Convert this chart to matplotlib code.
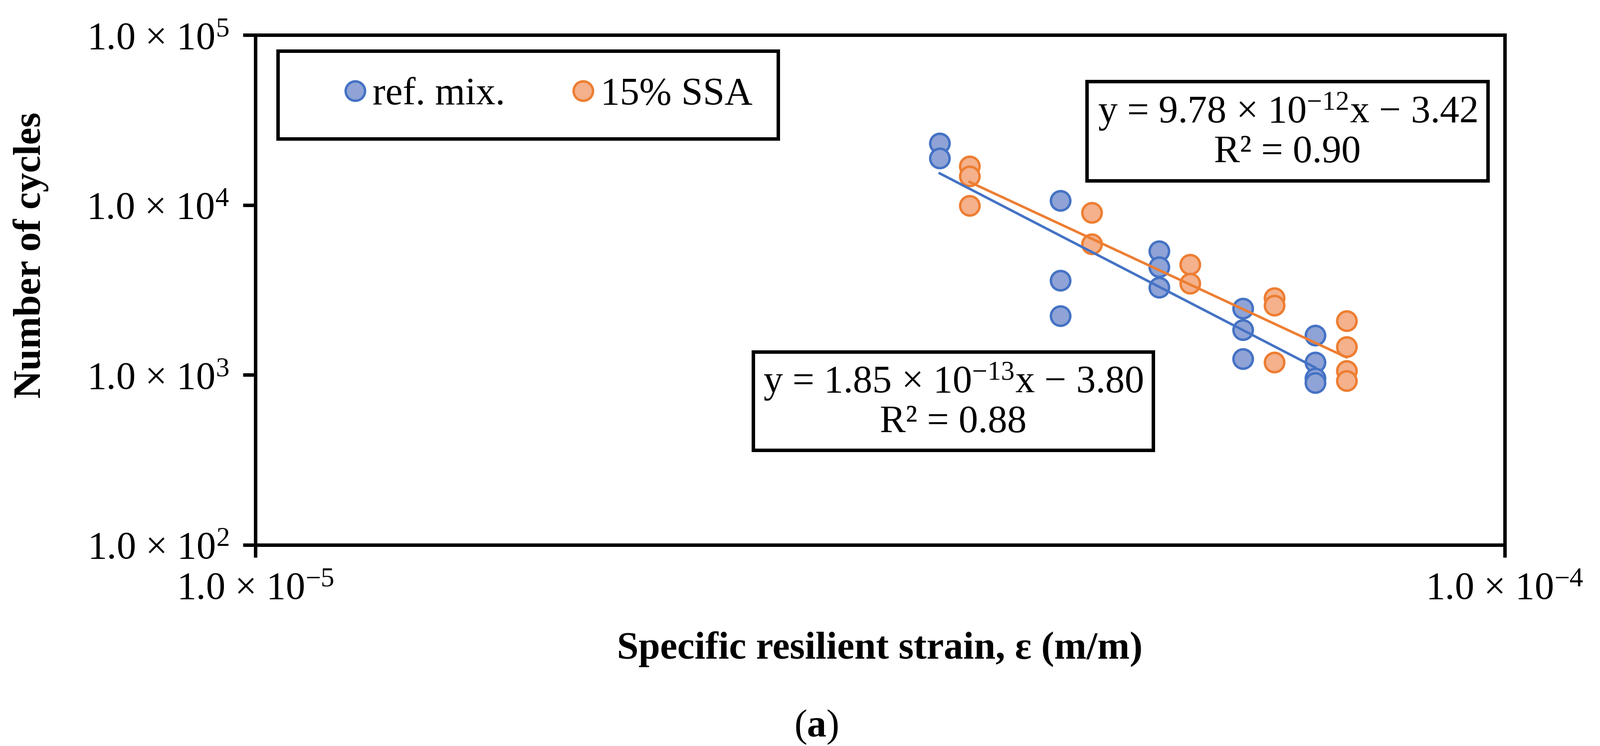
import matplotlib

matplotlib.use("Agg")

import matplotlib.pyplot as plt
from matplotlib.patches import Rectangle
import numpy as np

# strain (m/m) and number of cycles
ref_strain = [3.53e-5, 3.53e-5,
              4.41e-5, 4.41e-5, 4.41e-5,
              5.29e-5, 5.29e-5, 5.29e-5,
              6.17e-5, 6.17e-5, 6.17e-5,
              7.05e-5, 7.05e-5, 7.05e-5, 7.05e-5]
ref_cycles = [23070, 18840,
              10600, 3600, 2230,
              5360, 4320, 3270,
              2460, 1840, 1245,
              1710, 1187, 957, 900]

ssa_strain = [3.73e-5, 3.73e-5, 3.73e-5,
              4.67e-5, 4.67e-5,
              5.60e-5, 5.60e-5,
              6.54e-5, 6.54e-5, 6.54e-5,
              7.47e-5, 7.47e-5, 7.47e-5, 7.47e-5]
ssa_cycles = [16900, 14770, 9910,
              9020, 5890,
              4470, 3450,
              2840, 2565, 1190,
              2080, 1464, 1059, 925]

# power trendlines y = a * x^b as printed on the chart
ref_fit = (1.85e-13, -3.80, 0.88)
ssa_fit = (9.78e-12, -3.42, 0.90)

series_names = ["ref. mix.", "15% SSA"]
x_ticks = [1e-5, 1e-4]
x_tick_labels = ["1.0 × 10$^{-5}$", "1.0 × 10$^{-4}$"]
y_ticks = [1e2, 1e3, 1e4, 1e5]
y_tick_labels = ["1.0 × 10$^{2}$", "1.0 × 10$^{3}$", "1.0 × 10$^{4}$", "1.0 × 10$^{5}$"]

BLUE_EDGE = "#4472C4"
BLUE_FILL = "#8FA3D6"
ORANGE_EDGE = "#ED7D31"
ORANGE_FILL = "#F4B18C"

W, H = 3208, 1495
FS = 56

plt.rcParams["font.family"] = ["Liberation Serif", "DejaVu Serif"]
plt.rcParams["mathtext.fontset"] = "custom"
plt.rcParams["mathtext.rm"] = "Liberation Serif"
plt.rcParams["mathtext.it"] = "Liberation Serif:italic"
plt.rcParams["mathtext.bf"] = "Liberation Serif:bold"


def px(x, y):
    return x / W, 1 - y / H


def fit_line(strain, fit):
    a, b, _ = fit
    xs = np.linspace(min(strain), max(strain), 50)
    return xs, a * xs ** b


def fit_text(fit):
    a, b, r2 = fit
    mant, expo = f"{a:.2e}".split("e")
    return (f"y = {mant} × 10$^{{{int(expo)}}}$x \u2212 {abs(b):.2f}\n"
            f"R² = {r2:.2f}")


fig = plt.figure(figsize=(W / 100, H / 100), dpi=100)
left, top = px(512, 70)
right, bottom = px(3017, 1092)
ax = fig.add_axes([left, bottom, right - left, top - bottom])

marker_kw = dict(linestyle="none", marker="o", markersize=28, markeredgewidth=3.5)
h_ref, = ax.plot(ref_strain, ref_cycles, color=BLUE_EDGE, markerfacecolor=BLUE_FILL,
                 markeredgecolor=BLUE_EDGE, label=series_names[0], zorder=3, **marker_kw)
h_ssa, = ax.plot(ssa_strain, ssa_cycles, color=ORANGE_EDGE, markerfacecolor=ORANGE_FILL,
                 markeredgecolor=ORANGE_EDGE, label=series_names[1], zorder=3, **marker_kw)

xs, ys = fit_line(ref_strain, ref_fit)
ax.plot(xs, ys, color=BLUE_EDGE, lw=3.6, zorder=4)
xs, ys = fit_line(ssa_strain, ssa_fit)
ax.plot(xs, ys, color=ORANGE_EDGE, lw=3.6, zorder=4)

ax.set_xscale("log")
ax.set_yscale("log")
ax.set_xlim(1e-5, 1e-4)
ax.set_ylim(1e2, 1e5)
ax.set_xticks(x_ticks, x_tick_labels)
ax.set_yticks(y_ticks, y_tick_labels)
ax.minorticks_off()
ax.tick_params(axis="both", direction="out", length=18, width=5, labelsize=FS, pad=20)

for spine in ax.spines.values():
    spine.set_linewidth(5)
    spine.set_color("black")

# legend with a separate frame, as in the original
ax.legend(handles=[h_ref, h_ssa], ncol=2, frameon=False, fontsize=FS,
          loc="center left", bbox_to_anchor=px(689, 190), bbox_transform=fig.transFigure,
          handlelength=0.6, handletextpad=0.15, columnspacing=1.7,
          borderpad=0, borderaxespad=0)


def frame(x0, y0, x1, y1):
    fx0, fy1 = px(x0, y0)
    fx1, fy0 = px(x1, y1)
    fig.add_artist(Rectangle((fx0, fy0), fx1 - fx0, fy1 - fy0, transform=fig.transFigure,
                             fill=False, edgecolor="black", linewidth=5, zorder=5))


frame(557, 102, 1560, 278)
frame(2179, 163, 2983, 362)
frame(1510, 705, 2312, 902)

fig.text(*px(2581, 262), fit_text(ssa_fit), fontsize=FS, ha="center", va="center",
         multialignment="center", linespacing=1.1)
fig.text(*px(1911, 803), fit_text(ref_fit), fontsize=FS, ha="center", va="center",
         multialignment="center", linespacing=1.1)

fig.text(*px(62, 511), "Number of cycles", fontsize=FS, fontweight="bold",
         rotation=90, ha="center", va="center")
fig.text(*px(1764, 1320), "Specific resilient strain, ε (m/m)", fontsize=FS,
         fontweight="bold", ha="center", va="baseline")
fig.text(*px(1637, 1457), "($\\mathbf{a}$)", fontsize=FS, ha="center", va="center")

fig.savefig("out.png", dpi=100)
